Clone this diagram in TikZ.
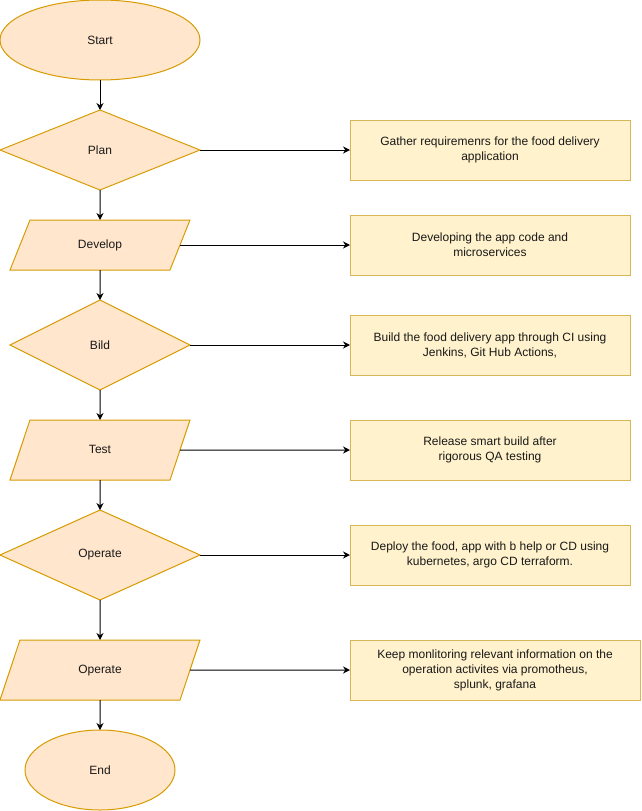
\documentclass[tikz,border=0pt]{standalone}
\usepackage{fontspec}
\setmainfont{Liberation Sans}
\usetikzlibrary{shapes.geometric, arrows.meta}
\definecolor{stepfill}{HTML}{FFE6CC}
\definecolor{stepline}{HTML}{D79B00}
\definecolor{notefill}{HTML}{FFF2CC}
\definecolor{noteline}{HTML}{D6B656}

\begin{document}
\begin{tikzpicture}[x=1pt, y=-1pt, inner sep=0, outer sep=0, line width=1pt,
  font=\fontsize{12}{15}\selectfont, text=black!90,
  terminal/.style={ellipse, draw=stepline, fill=stepfill,
    minimum width=200pt, minimum height=80pt},
  decision/.style={diamond, draw=stepline, fill=stepfill, aspect=2.2},
  io/.style={trapezium, trapezium stretches body, draw=stepline, fill=stepfill,
    text height=9pt, text depth=3pt},
  note/.style={rectangle, draw=noteline, fill=notefill, align=center,
    minimum width=280pt, minimum height=60pt},
  flow/.style={-{Stealth[length=7pt, width=7pt]}}]
  \useasboundingbox (0,0) rectangle (641,811);

% STEPS
  \node[terminal] (start) at (100,40) {Start};
  \node[decision, minimum width=200pt, minimum height=80pt] (plan) at (100,150) {Plan};
  \node[io, trapezium left angle=68.2, trapezium right angle=111.8,
    inner ysep=19pt, minimum width=180pt] (develop) at (100,245) {Develop};
  \node[decision, minimum width=180pt, minimum height=90pt] (bild) at (100,345) {Bild};
  \node[io, trapezium left angle=71.6, trapezium right angle=108.4,
    inner ysep=24pt, minimum width=180pt] (test) at (100,450) {Test};
  \node[decision, minimum width=200pt, minimum height=90pt] (operate) at (100,555) {Operate};
  \node[io, trapezium left angle=71.6, trapezium right angle=108.4,
    inner ysep=24pt, minimum width=200pt] (monitor) at (100,670) {Operate};
  \node[terminal, minimum width=150pt] (end) at (100,770) {End};

  \draw[flow] (start.south) -- (plan.north);
  \draw[flow] (plan.south) -- (develop.north);
  \draw[flow] (develop.south) -- (bild.north);
  \draw[flow] (bild.south) -- (test.north);
  \draw[flow] (test.south) -- (operate.north);
  \draw[flow] (operate.south) -- (monitor.north);
  \draw[flow] (monitor.south) -- (end.north);

% NOTES
  \node[note] (gather) at (490,150) {Gather requiremenrs for the food delivery\\application};
  \node[note] (code) at (490,245) {Developing the app code and\\microservices};
  \node[note] (ci) at (490,345) {Build the food delivery app through CI using\\Jenkins, Git Hub Actions,};
  \node[note] (qa) at (490,450) {Release smart build after\\rigorous QA testing};
  \node[note] (cd) at (490,555) {Deploy the food, app with b help or CD using\\kubernetes, argo CD terraform.};
  \node[note, minimum width=290pt] (watch) at (495,670) {Keep monlitoring relevant information on the\\operation activites via promotheus,\\splunk, grafana};

  \draw[flow] (plan.east) -- (gather.west);
  \draw[flow] (develop.east) -- (code.west);
  \draw[flow] (bild.east) -- (ci.west);
  \draw[flow] (test.east) -- (qa.west);
  \draw[flow] (operate.east) -- (cd.west);
  \draw[flow] (monitor.east) -- (watch.west);
\end{tikzpicture}
\end{document}
